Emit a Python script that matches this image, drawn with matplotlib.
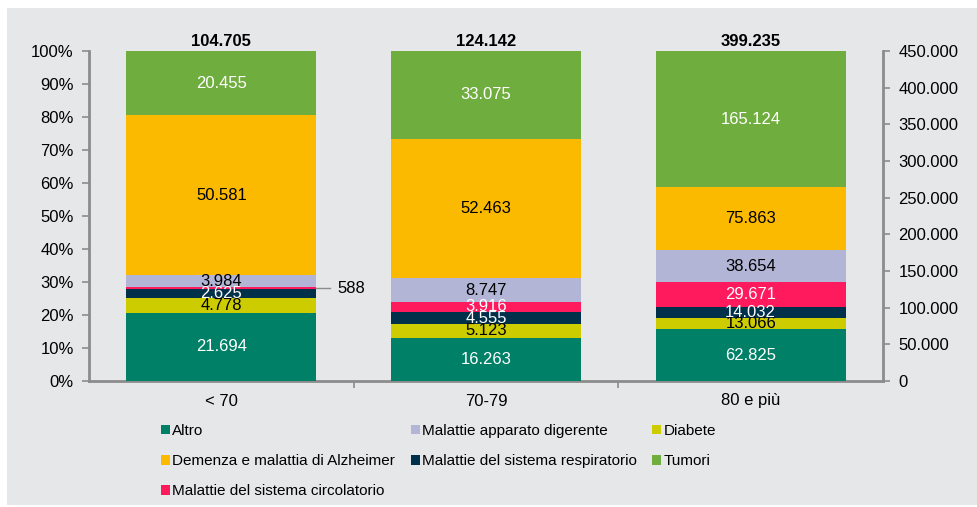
import matplotlib
matplotlib.use("Agg")
import matplotlib.pyplot as plt
from matplotlib.patches import Rectangle
from matplotlib.ticker import FuncFormatter, MultipleLocator, FixedLocator
import numpy as np

plt.rcParams.update({"font.family": ["Liberation Sans", "DejaVu Sans"], "font.size": 12})

# causes of death by age group (counts)
groups = ["< 70", "70-79", "80 e più"]
causes = ["Altro", "Diabete", "Malattie del sistema respiratorio",
          "Malattie del sistema circolatorio", "Malattie apparato digerente",
          "Demenza e malattia di Alzheimer", "Tumori"]
altro = [21694, 16263, 62825]
diabete = [4778, 5123, 13066]
respiratorio = [2625, 4555, 14032]
circolatorio = [588, 3916, 29671]
digerente = [3984, 8747, 38654]
demenza = [50581, 52463, 75863]
tumori = [20455, 33075, 165124]

colors = ["#008066", "#cccc00", "#00304a", "#ff1a5e", "#b3b5d6", "#fbb900", "#70ad3f"]
label_colors = ["white", "black", "white", "white", "black", "black", "white"]

series = np.array([altro, diabete, respiratorio, circolatorio, digerente, demenza, tumori], dtype=float)
totals = series.sum(axis=0)
shares = series / totals * 100

BG = "#e6e7e9"
AXC = "#8c8c8c"


def fmt_it(v):
    return f"{int(round(v)):,}".replace(",", ".")


fig = plt.figure(figsize=(9.77, 5.07), dpi=100)
fig.patches.append(Rectangle((7 / 977, 2 / 507), 1, (507 - 8 - 2) / 507, transform=fig.transFigure,
                             fc=BG, ec="none", zorder=-10))
ax = fig.add_axes([89 / 977, (507 - 381) / 507, (883 - 89) / 977, 330 / 507])
ax.set_facecolor(BG)

x = np.arange(len(groups))
width = 0.718
bottom = np.zeros(len(groups))
handles = []
for i, name in enumerate(causes):
    bars = ax.bar(x, shares[i], width, bottom=bottom, color=colors[i], label=name, zorder=3)
    handles.append(bars)
    for j, b in enumerate(bars):
        val = series[i, j]
        yc = bottom[j] + shares[i, j] / 2
        if shares[i, j] < 1:
            # too thin for an inner label: leader line to the right
            x0 = b.get_x() + b.get_width()
            ax.plot([x0, x0 + 0.05], [yc, yc], color=AXC, lw=1, zorder=4, clip_on=False)
            ax.text(x0 + 0.08, yc, fmt_it(val), ha="left", va="center", color="black")
        else:
            ax.text(x[j], yc, fmt_it(val), ha="center", va="center", color=label_colors[i], zorder=5)
    bottom += shares[i]

for j in range(len(groups)):
    ax.text(x[j], 102.8, fmt_it(totals[j]), ha="center", va="center", fontweight="bold")

ax.set_xlim(-0.5, 2.5)
ax.set_ylim(0, 100)
ax.yaxis.set_major_locator(MultipleLocator(10))
ax.yaxis.set_major_formatter(FuncFormatter(lambda v, p: f"{int(v)}%"))
ax.set_xticks(x)
ax.set_xticklabels(groups)
ax.xaxis.set_minor_locator(FixedLocator([0.5, 1.5]))
ax.tick_params(axis="x", which="major", length=0, pad=9)
ax.tick_params(axis="x", which="minor", length=5, width=1.2, color=AXC)
ax.tick_params(axis="y", length=5, width=1.2, color=AXC, pad=6)
for s in ["top", "right"]:
    ax.spines[s].set_visible(False)
for s in ["left", "bottom"]:
    ax.spines[s].set_color(AXC)
    ax.spines[s].set_linewidth(2)

ax2 = ax.twinx()
ax2.set_ylim(0, 450000)
ax2.yaxis.set_major_locator(MultipleLocator(50000))
ax2.yaxis.set_major_formatter(FuncFormatter(lambda v, p: fmt_it(v)))
ax2.tick_params(axis="y", length=5, width=1.2, color=AXC, pad=6)
for s in ["top", "left", "bottom"]:
    ax2.spines[s].set_visible(False)
ax2.spines["right"].set_color(AXC)
ax2.spines["right"].set_linewidth(2)

# legend laid out row-wise: fill columns in the matching order
order = [0, 5, 3, 4, 2, 1, 6]
fig.legend([handles[k] for k in order], [causes[k] for k in order], ncol=3, fontsize=11,
           loc="upper left", bbox_to_anchor=(161 / 977, 1 - 424 / 507), frameon=False,
           handlelength=0.6, handleheight=0.6, handletextpad=0.15, columnspacing=1.0,
           labelspacing=1.05, borderaxespad=0, borderpad=0)

fig.savefig("out.png", dpi=100, facecolor="white")
